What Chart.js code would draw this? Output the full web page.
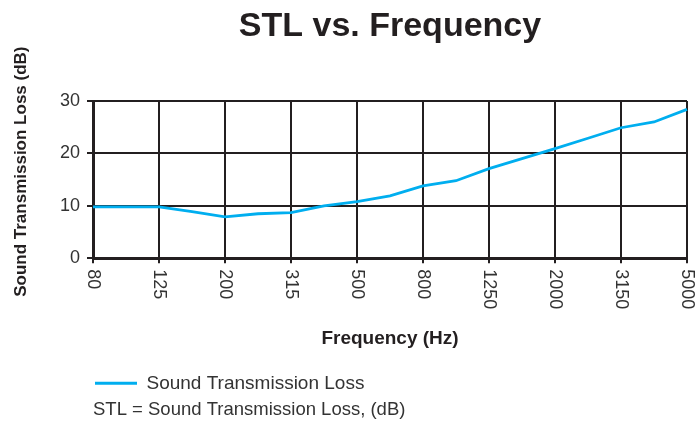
<!DOCTYPE html>
<html>
<head>
<meta charset="utf-8">
<title>STL vs. Frequency</title>
<script src="https://cdn.jsdelivr.net/npm/chart.js@4.4.0/dist/chart.umd.min.js"></script>
<style>
  body { margin: 0; background: #fff; }
  #wrap { width: 695px; height: 423px; }
</style>
</head>
<body>
<div id="wrap"><canvas id="stlChart" width="695" height="423"></canvas></div>
<script>
// 1/3 octave bands, only every other one gets a label
const frequencies = ['80', '100', '125', '160', '200', '250', '315', '400', '500', '630',
  '800', '1000', '1250', '1600', '2000', '2500', '3150', '4000', '5000'];
// STL in dB
const stlValues = [9.8, 9.8, 9.8, 8.9, 7.9, 8.5, 8.7, 10.0, 10.8, 11.9,
  13.8, 14.8, 17.1, 19.0, 20.9, 22.9, 24.9, 26.0, 28.4];
const yTicks = [0, 10, 20, 30];

const seriesName = 'Sound Transmission Loss';
const yTitle = 'Sound Transmission Loss (dB)';
const INK = '#231f20';
const TEXT = '#333333';
const BLUE = '#00aeef';
const FONT = "'Liberation Sans', Arial, Helvetica, sans-serif";

// reference turns the x labels clockwise; Chart.js only turns them the other way
// the y title also sits a bit above the plot centre, so it is drawn here too
const customText = {
  id: 'customText',
  afterDraw(chart) {
    const scale = chart.scales.x;
    const ctx = chart.ctx;
    ctx.save();
    ctx.font = '18px ' + FONT;
    ctx.fillStyle = TEXT;
    ctx.textAlign = 'left';
    ctx.textBaseline = 'middle';
    scale.ticks.forEach((tick, i) => {
      if (i % 2) return;
      const x = scale.getPixelForTick(i);
      ctx.save();
      ctx.translate(x, scale.top + 11);
      ctx.rotate(Math.PI / 2);
      ctx.fillText(frequencies[i], 0, 0);
      ctx.restore();
    });

    const area = chart.chartArea;
    ctx.font = 'bold 17px ' + FONT;
    ctx.fillStyle = INK;
    ctx.textAlign = 'center';
    ctx.translate(21, (area.top + area.bottom) / 2 - 8);
    ctx.rotate(-Math.PI / 2);
    ctx.fillText(yTitle, 0, 0);
    ctx.restore();
  }
};

const ctx = document.getElementById('stlChart').getContext('2d');
new Chart(ctx, {
  type: 'line',
  data: {
    labels: frequencies,
    datasets: [{
      label: seriesName,
      data: stlValues,
      borderColor: BLUE,
      backgroundColor: BLUE,
      borderWidth: 2.8,
      pointRadius: 0,
      tension: 0,
      fill: false
    }]
  },
  options: {
    responsive: false,
    animation: false,
    layout: { padding: { left: 0, right: 8, top: 0, bottom: 0 } },
    plugins: {
      title: {
        display: true,
        text: 'STL vs. Frequency',
        fullSize: false,
        color: INK,
        font: { family: FONT, size: 34, weight: 'bold', lineHeight: 1.2 },
        padding: { top: 6.6, bottom: 53.6 }
      },
      legend: {
        position: 'bottom',
        align: 'start',
        fullSize: false,
        labels: {
          boxWidth: 42,
          boxHeight: 3,
          padding: 2,
          color: TEXT,
          font: { family: FONT, size: 19 },
          generateLabels: () => [{
            text: seriesName, fillStyle: BLUE, strokeStyle: BLUE, fontColor: TEXT,
            lineWidth: 0, hidden: false, datasetIndex: 0
          }]
        }
      },
      subtitle: {
        display: true,
        position: 'bottom',
        align: 'start',
        fullSize: false,
        text: 'STL = Sound Transmission Loss, (dB)',
        color: TEXT,
        font: { family: FONT, size: 18.5, lineHeight: 0.8 },
        padding: { top: 0, bottom: 5.4 }
      },
      tooltip: { enabled: false }
    },
    scales: {
      x: {
        type: 'category',
        offset: false,
        ticks: { display: false, autoSkip: false },
        grid: {
          color: c => (c.index % 2 === 0 ? INK : 'transparent'),
          lineWidth: 2,
          tickLength: 5
        },
        border: { color: INK, width: 3 },
        title: {
          display: true,
          text: 'Frequency (Hz)',
          color: INK,
          font: { family: FONT, size: 19, weight: 'bold', lineHeight: 1.2 },
          padding: { top: 0, bottom: 22.1 }
        },
        afterFit: s => { s.height = 113.5; }
      },
      y: {
        min: 0,
        max: 30,
        afterBuildTicks: s => { s.ticks = yTicks.map(v => ({ value: v })); },
        ticks: { color: TEXT, font: { family: FONT, size: 18 }, padding: 7 },
        grid: { color: INK, lineWidth: 2, tickLength: 6 },
        border: { color: INK, width: 3 },
        title: { display: false },
        afterFit: s => { s.width = 93; }
      }
    }
  },
  plugins: [customText]
});
</script>
</body>
</html>
